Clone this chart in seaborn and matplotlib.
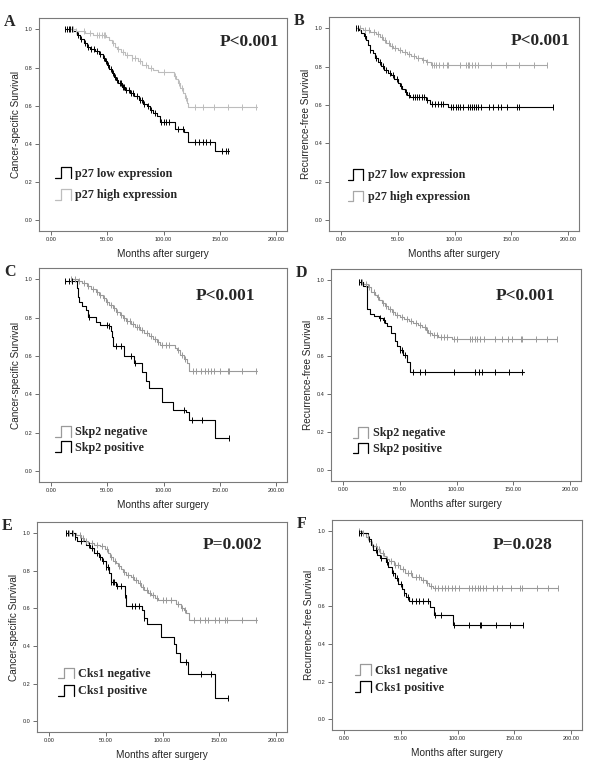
import numpy as np
import pandas as pd
import seaborn as sns
import matplotlib
matplotlib.use("Agg")
import matplotlib.pyplot as plt
from matplotlib.legend_handler import HandlerBase
from matplotlib.lines import Line2D

# Kaplan-Meier step points (months, survival)
a_low = [(13, 1.0), (20, 0.99), (23, 0.97), (26, 0.95), (29, 0.93), (32, 0.91), (35, 0.895), (39, 0.885),
         (43, 0.87), (46, 0.85), (48, 0.835), (50, 0.815), (52, 0.79), (54, 0.77), (56, 0.75), (58, 0.735),
         (60, 0.72), (63, 0.70), (66, 0.685), (70, 0.665), (74, 0.65), (78, 0.63), (82, 0.61), (85, 0.60),
         (88, 0.58), (91, 0.56), (94, 0.545), (97, 0.515), (110, 0.48), (118, 0.46), (122, 0.41),
         (146, 0.36), (158, 0.36)]
a_high = [(18, 1.0), (22, 0.99), (30, 0.98), (37, 0.97), (49, 0.96), (52, 0.945), (54, 0.93), (57, 0.91),
          (59, 0.895), (62, 0.88), (66, 0.865), (72, 0.85), (77, 0.835), (81, 0.815), (86, 0.80), (91, 0.785),
          (95, 0.775), (109, 0.755), (111, 0.74), (113, 0.72), (115, 0.695), (117, 0.665), (119, 0.64),
          (121, 0.615), (122, 0.595), (183, 0.595)]
b_low = [(13, 1.0), (16, 0.99), (18, 0.975), (20, 0.96), (22, 0.94), (24, 0.915), (26, 0.89), (28, 0.87),
         (30, 0.845), (33, 0.825), (35, 0.805), (38, 0.785), (41, 0.77), (44, 0.755), (47, 0.735), (50, 0.715),
         (52, 0.70), (54, 0.685), (56, 0.67), (58, 0.655), (61, 0.645), (75, 0.625), (78, 0.605), (94, 0.59),
         (187, 0.59)]
b_high = [(14, 1.0), (19, 0.99), (26, 0.98), (31, 0.97), (34, 0.955), (37, 0.94), (40, 0.925), (43, 0.91),
          (46, 0.90), (50, 0.89), (54, 0.875), (58, 0.865), (62, 0.855), (66, 0.845), (71, 0.835), (75, 0.825),
          (79, 0.81), (181, 0.81)]
c_neg = [(18, 1.0), (24, 0.99), (28, 0.98), (32, 0.965), (36, 0.95), (40, 0.935), (43, 0.92), (46, 0.905),
         (49, 0.885), (52, 0.865), (55, 0.85), (58, 0.83), (61, 0.815), (64, 0.80), (67, 0.785), (71, 0.77),
         (75, 0.75), (79, 0.735), (83, 0.72), (87, 0.705), (91, 0.69), (94, 0.675), (97, 0.66), (110, 0.645),
         (112, 0.63), (115, 0.605), (118, 0.585), (121, 0.565), (123, 0.52), (183, 0.52)]
c_pos = [(13, 0.99), (23, 0.955), (24, 0.91), (25, 0.885), (28, 0.86), (31, 0.84), (33, 0.805), (40, 0.78),
         (44, 0.76), (52, 0.755), (53, 0.73), (54, 0.70), (55, 0.655), (65, 0.60), (74, 0.565), (81, 0.515),
         (84, 0.47), (87, 0.435), (99, 0.36), (108, 0.32), (120, 0.31), (123, 0.265), (146, 0.175), (158, 0.175)]
d_neg = [(14, 0.99), (18, 0.98), (22, 0.965), (25, 0.94), (28, 0.925), (30, 0.91), (32, 0.895), (34, 0.88),
         (37, 0.865), (40, 0.85), (43, 0.835), (46, 0.82), (50, 0.805), (54, 0.795), (58, 0.785), (62, 0.775),
         (66, 0.765), (70, 0.755), (73, 0.74), (75, 0.725), (78, 0.71), (84, 0.70), (96, 0.69), (188, 0.69)]
d_pos = [(14, 0.99), (18, 0.97), (21, 0.85), (24, 0.825), (27, 0.81), (32, 0.80), (35, 0.79), (37, 0.775),
         (39, 0.76), (42, 0.725), (46, 0.68), (48, 0.655), (50, 0.635), (53, 0.605), (56, 0.57), (59, 0.515),
         (159, 0.515)]
e_neg = [(15, 1.0), (24, 0.99), (28, 0.975), (31, 0.96), (34, 0.95), (40, 0.94), (45, 0.93), (49, 0.915),
         (52, 0.895), (54, 0.875), (56, 0.855), (59, 0.84), (61, 0.825), (63, 0.81), (65, 0.795), (68, 0.78),
         (72, 0.765), (75, 0.75), (78, 0.735), (81, 0.715), (84, 0.70), (87, 0.685), (90, 0.67), (93, 0.655),
         (96, 0.645), (112, 0.625), (116, 0.605), (119, 0.59), (121, 0.575), (123, 0.54), (183, 0.54)]
e_pos = [(15, 1.0), (23, 0.98), (25, 0.96), (33, 0.94), (36, 0.92), (40, 0.895), (44, 0.875), (47, 0.85),
         (50, 0.82), (53, 0.79), (55, 0.74), (59, 0.72), (67, 0.67), (68, 0.615), (82, 0.59), (84, 0.55),
         (86, 0.52), (99, 0.45), (110, 0.41), (112, 0.365), (115, 0.315), (122, 0.25), (146, 0.125), (158, 0.125)]
f_neg = [(13, 1.0), (16, 0.99), (19, 0.97), (22, 0.95), (24, 0.935), (26, 0.92), (29, 0.905), (32, 0.885),
         (35, 0.87), (37, 0.855), (40, 0.84), (44, 0.82), (49, 0.80), (54, 0.78), (60, 0.755), (68, 0.74),
         (72, 0.725), (75, 0.71), (78, 0.70), (188, 0.70)]
f_pos = [(13, 0.99), (21, 0.96), (24, 0.925), (26, 0.90), (29, 0.875), (32, 0.86), (37, 0.835), (39, 0.81),
         (42, 0.78), (45, 0.75), (48, 0.72), (51, 0.695), (53, 0.67), (55, 0.65), (57, 0.63), (76, 0.595),
         (79, 0.555), (96, 0.50), (158, 0.50)]

# censored cases (months)
a_low_cens = [13, 14, 16, 17, 19, 24, 27, 30, 33, 36, 38, 41, 44, 47, 49, 51, 53, 55, 57, 59, 61, 62, 64, 65,
              67, 69, 71, 73, 76, 79, 81, 83, 86, 89, 92, 98, 100, 102, 105, 113, 117, 128, 131, 135, 138, 141,
              152, 155, 157]
a_high_cens = [20, 22, 29, 35, 41, 43, 45, 47, 48, 55, 60, 64, 68, 72, 75, 79, 84, 89, 100, 110, 114, 116,
               120, 128, 135, 145, 157, 170, 182]
b_low_cens = [13, 15, 21, 26, 31, 34, 37, 40, 43, 46, 49, 53, 57, 60, 63, 65, 67, 69, 71, 73, 76, 80, 83, 85,
              88, 90, 97, 99, 101, 103, 105, 107, 112, 114, 115, 117, 119, 121, 123, 130, 134, 138, 141, 146,
              155, 157, 187]
b_high_cens = [17, 21, 25, 29, 33, 36, 39, 42, 45, 48, 52, 56, 60, 64, 68, 72, 76, 80, 82, 84, 86, 90, 93, 94,
               105, 110, 112, 113, 115, 118, 121, 132, 145, 157, 170, 181]
c_neg_cens = [18, 21, 25, 29, 33, 37, 41, 44, 47, 50, 53, 56, 59, 62, 65, 68, 70, 73, 76, 78, 81, 85, 89, 92,
              95, 99, 102, 105, 113, 116, 119, 126, 129, 133, 137, 139, 142, 145, 150, 157, 158, 170, 182]
c_pos_cens = [13, 16, 19, 34, 50, 52, 58, 62, 71, 75, 118, 125, 134, 158]
d_neg_cens = [14, 17, 20, 23, 27, 31, 35, 38, 41, 44, 48, 52, 56, 60, 64, 68, 72, 74, 77, 80, 83, 86, 89, 92,
              98, 100, 112, 114, 116, 118, 121, 124, 134, 140, 145, 149, 157, 158, 170, 180, 188]
d_pos_cens = [14, 16, 33, 36, 50, 52, 55, 62, 68, 72, 98, 116, 120, 122, 134, 146, 158]
e_neg_cens = [15, 18, 21, 27, 30, 33, 38, 42, 47, 51, 55, 58, 62, 66, 70, 74, 77, 80, 83, 86, 89, 92, 95, 100,
              103, 107, 114, 117, 120, 128, 133, 137, 140, 146, 150, 155, 157, 170, 182]
e_pos_cens = [15, 17, 20, 23, 28, 35, 38, 42, 45, 48, 50, 52, 55, 56, 57, 60, 63, 67, 73, 76, 79, 84, 121,
              134, 143, 158]
f_neg_cens = [13, 17, 21, 25, 28, 31, 34, 38, 41, 45, 48, 52, 56, 59, 63, 66, 70, 73, 77, 80, 83, 86, 89, 92,
              95, 98, 101, 110, 113, 115, 118, 120, 122, 125, 131, 135, 139, 147, 155, 157, 170, 180, 188]
f_pos_cens = [13, 15, 22, 28, 33, 38, 43, 47, 50, 53, 56, 60, 63, 66, 70, 74, 80, 85, 97, 110, 120, 121, 134,
              146, 158]

panel_letters = ["A", "B", "C", "D", "E", "F"]
p_values = ["P<0.001", "P<0.001", "P<0.001", "P<0.001", "P=0.002", "P=0.028"]
y_titles = ["Cancer-specific Survival", "Recurrence-free Survival"] * 3
x_ticks = [0, 50, 100, 150, 200]
y_ticks = [0.0, 0.2, 0.4, 0.6, 0.8, 1.0]

BLACK = "#000000"
# (label, steps, censored, colour) in legend order
panels = [
    [("p27 low expression", a_low, a_low_cens, BLACK), ("p27 high expression", a_high, a_high_cens, "#bdbdbd")],
    [("p27 low expression", b_low, b_low_cens, BLACK), ("p27 high expression", b_high, b_high_cens, "#a8a8a8")],
    [("Skp2 negative", c_neg, c_neg_cens, "#9a9a9a"), ("Skp2 positive", c_pos, c_pos_cens, BLACK)],
    [("Skp2 negative", d_neg, d_neg_cens, "#9a9a9a"), ("Skp2 positive", d_pos, d_pos_cens, BLACK)],
    [("Cks1 negative", e_neg, e_neg_cens, "#9a9a9a"), ("Cks1 positive", e_pos, e_pos_cens, BLACK)],
    [("Cks1 negative", f_neg, f_neg_cens, "#9a9a9a"), ("Cks1 positive", f_pos, f_pos_cens, BLACK)],
]

# layout (pixels on the 600x775 canvas): left, top, right, bottom
boxes = [(39, 18, 287, 231), (329, 17, 579, 231), (39, 268, 287, 482),
         (331, 269, 581, 481), (37, 522, 287, 732), (332, 520, 582, 730)]
p_pos = [(0.97, 0.887), (0.964, 0.888), (0.87, 0.87), (0.896, 0.873), (0.90, 0.89), (0.884, 0.88)]
leg_pos = [(0.065, 0.30), (0.075, 0.29), (0.065, 0.262), (0.087, 0.255), (0.085, 0.307), (0.092, 0.314)]
leg_space = [0.75, 0.75, 0.25, 0.25, 0.4, 0.4]

sns.set_style("white")
plt.rcParams["font.family"] = ["Liberation Sans", "DejaVu Sans"]
SERIF = ["Liberation Serif", "DejaVu Serif"]


class StepHandler(HandlerBase):
    # little KM-step glyph used by SPSS legends
    def create_artists(self, legend, orig_handle, xdescent, ydescent, width, height, fontsize, trans):
        x0, y0 = -xdescent, -ydescent
        xs = [x0, x0 + 0.35 * width, x0 + 0.35 * width, x0 + width, x0 + width]
        ys = [y0, y0, y0 + height, y0 + height, y0]
        line = Line2D(xs, ys, color=orig_handle.get_color(), lw=0.9, transform=trans)
        return [line]


W, H = 600, 775
fig = plt.figure(figsize=(6, 7.75), dpi=100)

for i, curves in enumerate(panels):
    l, t, r, b = boxes[i]
    ax = fig.add_axes([l / W, 1 - b / H, (r - l) / W, (b - t) / H])
    handles, labels = [], []
    for label, steps, cens, color in curves:
        df = pd.DataFrame(steps, columns=["month", "surv"])
        sns.lineplot(data=df, x="month", y="surv", drawstyle="steps-post", color=color, lw=0.8,
                     estimator=None, sort=False, legend=False, ax=ax)
        tt = df["month"].to_numpy()
        ss = df["surv"].to_numpy()
        idx = np.searchsorted(tt, np.array(cens), side="right") - 1
        sns.scatterplot(x=cens, y=ss[idx], marker="|", s=16, color=color, linewidth=0.7, ax=ax, zorder=3)
        handles.append(Line2D([], [], color=color))
        labels.append(label)

    ax.set_xlim(-10.5, 209.5)
    ax.set_ylim(-0.057, 1.06)
    ax.set_xticks(x_ticks)
    ax.set_xticklabels([f"{v:.2f}" for v in x_ticks])
    ax.set_yticks(y_ticks)
    ax.set_yticklabels([f"{v:.1f}" for v in y_ticks])
    ax.tick_params(axis="both", labelsize=4, length=3, width=0.6, color="#555555", pad=1.5,
                   bottom=True, left=True)
    for sp in ax.spines.values():
        sp.set_color("#7a7a7a")
        sp.set_linewidth(0.8)
    ax.set_xlabel("Months after surgery", fontsize=7.2, labelpad=5)
    ax.set_ylabel(y_titles[i], fontsize=7.2, labelpad=3)

    ax.text(-0.14, 1.02, panel_letters[i], transform=ax.transAxes, fontsize=11.5, fontweight="bold",
            family=SERIF, ha="left", va="top")
    ax.text(p_pos[i][0], p_pos[i][1], p_values[i], transform=ax.transAxes, fontsize=12.5,
            fontweight="bold", family=SERIF, ha="right", va="center")
    ax.legend(handles, labels, handler_map={Line2D: StepHandler()}, loc="upper left",
              bbox_to_anchor=leg_pos[i], frameon=False, borderpad=0, borderaxespad=0,
              handlelength=1.3, handleheight=1.0, handletextpad=0.35, labelspacing=leg_space[i],
              prop={"family": SERIF, "weight": "bold", "size": 8.7})

fig.savefig("out.png", dpi=100)
